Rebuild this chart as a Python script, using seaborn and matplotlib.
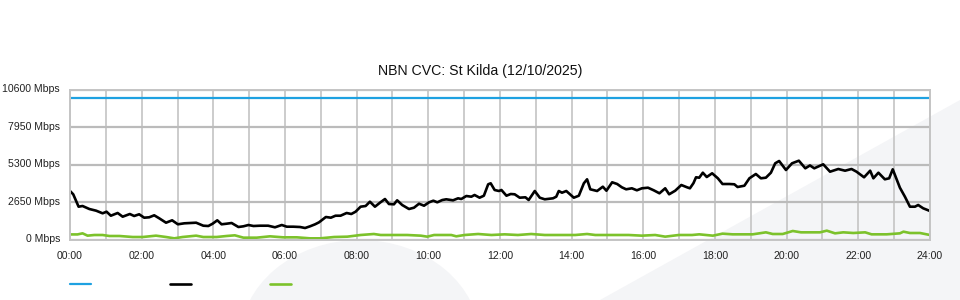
import matplotlib
matplotlib.use("Agg")
import matplotlib.pyplot as plt
import matplotlib.transforms as mtransforms
import seaborn as sns
import pandas as pd
from matplotlib.patches import Ellipse, Polygon

# ---------------- data ----------------
title = "NBN CVC: St Kilda (12/10/2025)"

y_ticks = [0, 2650, 5300, 7950, 10600]
y_labels = ["0 Mbps", "2650 Mbps", "5300 Mbps", "7950 Mbps", "10600 Mbps"]
x_ticks = list(range(0, 25, 2))
x_labels = ["00:00", "02:00", "04:00", "06:00", "08:00", "10:00", "12:00",
            "14:00", "16:00", "18:00", "20:00", "22:00", "24:00"]

# capacity (blue)
cap_t = [0.0, 24.0]
cap_v = [10000, 10000]

# download / total traffic (black) - hours, Mbps
black_t = [0.00, 0.09, 0.24, 0.35, 0.54, 0.73, 0.91, 1.02, 1.14, 1.33,
           1.47, 1.67, 1.79, 1.93, 2.07, 2.21, 2.35, 2.49, 2.68, 2.85,
           3.01, 3.19, 3.38, 3.52, 3.72, 3.86, 3.98, 4.11, 4.23, 4.37,
           4.51, 4.70, 4.84, 4.98, 5.12, 5.30, 5.53, 5.72, 5.91, 6.05,
           6.23, 6.42, 6.56, 6.70, 6.84, 6.95, 7.14, 7.28, 7.41, 7.55,
           7.72, 7.85, 7.97, 8.11, 8.25, 8.37, 8.51, 8.65, 8.79, 8.90,
           9.04, 9.13, 9.27, 9.46, 9.60, 9.74, 9.88, 10.02, 10.14, 10.25,
           10.39, 10.50, 10.69, 10.83, 10.92, 11.06, 11.20, 11.29, 11.43, 11.55,
           11.67, 11.74, 11.85, 11.97, 12.04, 12.18, 12.30, 12.41, 12.55, 12.71,
           12.80, 12.97, 13.11, 13.25, 13.48, 13.57, 13.64, 13.73, 13.85, 14.06,
           14.20, 14.34, 14.43, 14.52, 14.71, 14.87, 14.97, 15.13, 15.27, 15.40,
           15.52, 15.68, 15.82, 15.96, 16.13, 16.29, 16.45, 16.61, 16.72, 16.89,
           17.06, 17.22, 17.30, 17.40, 17.47, 17.56, 17.66, 17.77, 17.92, 18.08,
           18.21, 18.40, 18.54, 18.63, 18.82, 18.96, 19.14, 19.28, 19.42, 19.56,
           19.68, 19.79, 19.98, 20.15, 20.34, 20.52, 20.65, 20.77, 21.02, 21.21,
           21.44, 21.63, 21.81, 21.95, 22.16, 22.33, 22.42, 22.56, 22.74, 22.86,
           22.96, 23.16, 23.30, 23.44, 23.58, 23.67, 23.81, 24.00]
black_v = [3440, 3205, 2326, 2375, 2162, 2042, 1857, 1971, 1687, 1879,
           1617, 1808, 1666, 1787, 1546, 1574, 1716, 1503, 1191, 1361,
           1078, 1148, 1170, 1191, 978, 957, 1120, 1361, 1078, 1120,
           1170, 886, 936, 1028, 957, 978, 978, 865, 1028, 908,
           908, 886, 815, 936, 1078, 1219, 1595, 1546, 1687, 1687,
           1879, 1808, 1971, 2326, 2375, 2680, 2326, 2609, 2871, 2517,
           2496, 2779, 2446, 2162, 2255, 2538, 2396, 2637, 2751, 2637,
           2800, 2850, 2779, 2921, 2871, 3084, 3035, 3155, 2964, 3105,
           3914, 3985, 3510, 3439, 3510, 3105, 3226, 3205, 2964, 2992,
           2800, 3439, 2964, 2850, 2921, 3035, 3439, 3318, 3439, 2964,
           3105, 3985, 4268, 3559, 3439, 3744, 3460, 4056, 3935, 3701,
           3559, 3630, 3488, 3630, 3673, 3488, 3276, 3630, 3205, 3460,
           3864, 3701, 3630, 4000, 4410, 4382, 4736, 4431, 4694, 4339,
           3935, 3935, 3914, 3722, 3814, 4339, 4644, 4339, 4382, 4736,
           5403, 5566, 4928, 5403, 5587, 5048, 5250, 5048, 5332, 4807,
           4998, 4878, 4998, 4807, 4410, 4878, 4339, 4736, 4268, 4339,
           4977, 3673, 3035, 2326, 2326, 2446, 2212, 2021]

# upload traffic (green)
green_t = [0.00, 0.21, 0.35, 0.49, 0.68, 0.91, 1.10, 1.38, 1.75, 2.03,
           2.40, 2.68, 2.91, 3.14, 3.52, 3.72, 4.09, 4.37, 4.60, 4.84,
           5.21, 5.58, 5.95, 6.33, 6.70, 6.98, 7.37, 7.74, 8.11, 8.48,
           8.67, 9.04, 9.41, 9.79, 9.97, 10.16, 10.44, 10.64, 10.78, 11.01,
           11.39, 11.76, 12.13, 12.50, 12.87, 13.25, 13.62, 14.10, 14.43, 14.66,
           15.03, 15.59, 15.96, 16.33, 16.61, 16.99, 17.36, 17.56, 17.94, 18.21,
           18.49, 18.87, 19.05, 19.42, 19.61, 19.89, 20.17, 20.40, 20.63, 20.93,
           21.12, 21.35, 21.58, 21.86, 22.19, 22.37, 22.79, 23.16, 23.26, 23.44,
           23.72, 24.00]
green_v = [360, 360, 437, 272, 319, 319, 248, 248, 177, 177,
           272, 177, 83, 177, 272, 177, 177, 248, 296, 130,
           130, 225, 154, 154, 83, 83, 177, 201, 319, 390,
           319, 319, 319, 272, 201, 319, 319, 319, 225, 319,
           390, 319, 366, 319, 390, 319, 319, 319, 390, 319,
           319, 319, 272, 319, 201, 319, 319, 366, 272, 414,
           366, 366, 366, 508, 390, 390, 603, 508, 508, 508,
           626, 437, 508, 461, 508, 366, 366, 437, 555, 461,
           461, 319]

# ---------------- style ----------------
sns.set_theme(style="white")
plt.rcParams['font.family'] = ['Liberation Sans', 'DejaVu Sans']

BLUE = "#1ea1e1"
BLACK = "#000000"
GREEN = "#7cc22b"
DECOR = "#f4f5f7"

fig = plt.figure(figsize=(9.6, 3.0), dpi=100)
fig.patch.set_facecolor("white")

# faint background decoration
fig.patches.append(Ellipse((360 / 960, -40 / 300), 240 / 960, 200 / 300,
                           transform=fig.transFigure, facecolor=DECOR,
                           edgecolor="none", zorder=-10))
fig.patches.append(Polygon([(600 / 960, 0), (1, 200 / 300), (1, 0)], closed=True,
                           transform=fig.transFigure, facecolor=DECOR,
                           edgecolor="none", zorder=-10))

ax = fig.add_axes([70 / 960, 60.5 / 300, 860 / 960, 149.5 / 300])
ax.set_facecolor("none")

df_cap = pd.DataFrame({"t": cap_t, "v": cap_v})
df_black = pd.DataFrame({"t": black_t, "v": black_v})
df_green = pd.DataFrame({"t": green_t, "v": green_v})

sns.lineplot(data=df_cap, x="t", y="v", color=BLUE, linewidth=1.6, ax=ax, legend=False)
sns.lineplot(data=df_black, x="t", y="v", color=BLACK, linewidth=1.9, ax=ax, legend=False)
sns.lineplot(data=df_green, x="t", y="v", color=GREEN, linewidth=1.9, ax=ax, legend=False)

ax.set_xlim(0, 24)
ax.set_ylim(0, 10600)
ax.set_xticks(x_ticks)
ax.set_xticklabels(x_labels)
ax.set_xticks(list(range(1, 24, 2)), minor=True)
ax.set_yticks(y_ticks)
ax.set_yticklabels(y_labels)
ax.set_xlabel("")
ax.set_ylabel("")

ax.grid(True, which="both", axis="x", color="#c8c8c8", linewidth=1.3)
ax.grid(True, which="major", axis="y", color="#bbbbbb", linewidth=1.6)
ax.set_axisbelow(True)
for s in ax.spines.values():
    s.set_color("#c4c4c4")
    s.set_linewidth(1.4)

ax.tick_params(axis="both", which="both", length=0, labelsize=7.6, colors="#222222")
ax.tick_params(axis="y", pad=7.2)
ax.tick_params(axis="x", pad=8)

# nudge y labels slightly upward like the reference
offset = mtransforms.ScaledTranslation(0, 1.5 / 100, fig.dpi_scale_trans)
for lbl in ax.get_yticklabels():
    lbl.set_transform(lbl.get_transform() + offset)

fig.text(0.5, 1 - 71 / 300, title, ha="center", va="center", fontsize=10.2, color="#111111")

handles = ax.get_lines()[:3]
fig.legend(handles, ["", "", ""], loc="center left",
           bbox_to_anchor=(70 / 960, 1 - 285 / 300), ncol=3, frameon=False,
           fontsize=7.5, handlelength=2.0, handletextpad=0.0, columnspacing=7.6,
           borderpad=0, borderaxespad=0)

fig.savefig("out.png", dpi=100)
